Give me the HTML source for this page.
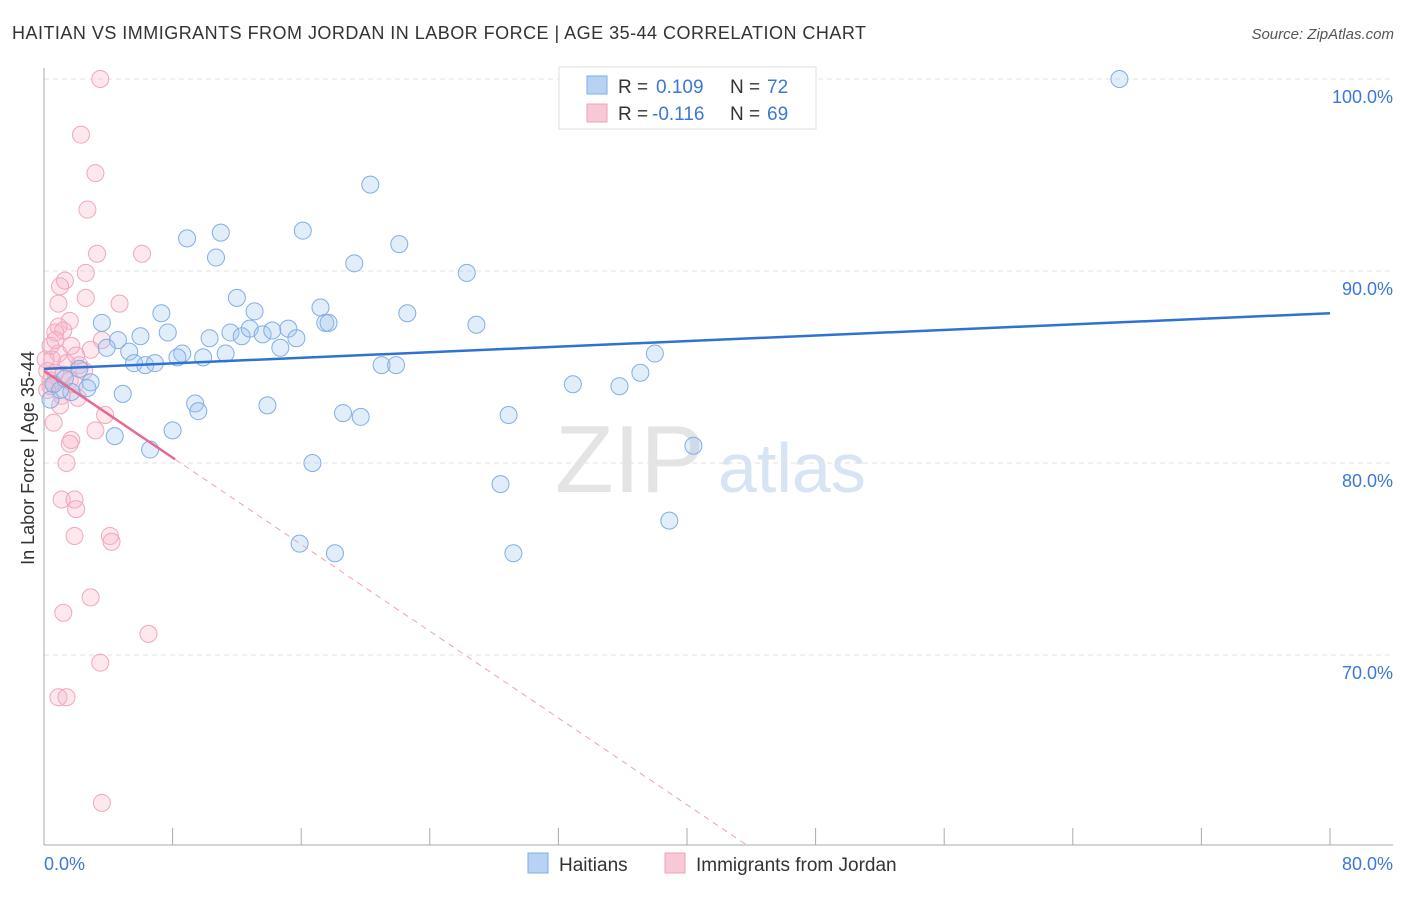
<!DOCTYPE html>
<html><head><meta charset="utf-8"><style>
body{margin:0;background:#fff;font-family:"Liberation Sans",sans-serif}
svg text{font-family:"Liberation Sans",sans-serif}
</style></head><body>
<svg id="chart" width="1406" height="892">
<text x="12" y="39" font-size="18" fill="#333" textLength="854" lengthAdjust="spacing">HAITIAN VS IMMIGRANTS FROM JORDAN IN LABOR FORCE | AGE 35-44 CORRELATION CHART</text>
<text x="1394" y="39" font-size="15" fill="#555" font-style="italic" text-anchor="end">Source: ZipAtlas.com</text>
<text x="34" y="458" font-size="18" fill="#333" text-anchor="middle" transform="rotate(-90 34 458)">In Labor Force | Age 35-44</text>
<text x="555" y="492" font-size="96" fill="#e4e4e4" font-family="Liberation Serif">ZIP</text>
<text x="718" y="492" font-size="70" fill="#d6e4f4">atlas</text>
<g id="grid"></g><g id="axes"></g><g id="pts"></g><g id="trends"></g>
<g>
<rect x="559" y="67" width="257" height="62" fill="#fff" stroke="#ddd"/>
<rect x="587" y="76" width="20" height="18" fill="#b8d2f4" stroke="#7aaee8"/>
<text x="618" y="93" font-size="19" fill="#333">R = </text>
<text x="656" y="93" font-size="19" fill="#3a78d8">0.109</text>
<text x="730" y="93" font-size="19" fill="#333">N = </text>
<text x="767" y="93" font-size="19" fill="#3a78d8">72</text>
<rect x="587" y="104" width="20" height="18" fill="#f9c8d6" stroke="#f2a0b8"/>
<text x="618" y="120" font-size="19" fill="#333">R = </text>
<text x="652" y="120" font-size="19" fill="#3a78d8">-0.116</text>
<text x="730" y="120" font-size="19" fill="#333">N = </text>
<text x="767" y="120" font-size="19" fill="#3a78d8">69</text>
</g>
<g>
<rect x="528" y="853" width="20" height="20" fill="#b8d2f4" stroke="#7aaee8"/>
<text x="559" y="871" font-size="19" fill="#333">Haitians</text>
<rect x="665" y="853" width="20" height="20" fill="#f9c8d6" stroke="#f2a0b8"/>
<text x="696" y="871" font-size="19" fill="#333">Immigrants from Jordan</text>
</g>
</svg>
<script>
const yTicks=[100,90,80,70];
const xTickLabels=["0.0%","80.0%"];
const blueX=[66.9,20.3,8.9,11.0,16.1,22.1,10.7,19.3,26.3,12.0,13.1,7.3,17.2,22.6,17.5,17.7,26.9,3.6,6.0,7.7,4.6,3.9,10.3,11.6,12.3,12.8,13.6,14.2,15.2,15.7,14.7,5.3,8.6,8.3,9.9,11.3,5.6,6.3,6.9,21.0,21.9,38.0,37.1,2.2,32.9,35.8,2.9,4.9,2.7,1.7,0.6,9.4,9.6,13.9,18.6,19.7,28.9,8.0,4.4,6.6,40.4,16.7,28.4,38.9,15.9,18.1,29.2,1.0,1.3,0.4];
const blueY=[100,94.5,91.7,92.0,92.1,91.4,90.7,90.4,89.9,88.6,87.9,87.8,88.1,87.8,87.3,87.3,87.2,87.3,86.6,86.8,86.4,86.0,86.5,86.8,86.6,87.0,86.7,86.9,87.0,86.5,86.0,85.8,85.7,85.5,85.5,85.7,85.2,85.1,85.2,85.1,85.1,85.7,84.7,84.9,84.1,84.0,84.2,83.6,83.9,83.7,84.1,83.1,82.7,83.0,82.6,82.4,82.5,81.7,81.4,80.7,80.9,80.0,78.9,77.0,75.8,75.3,75.3,83.8,84.4,83.3];
const pinkX=[3.5,2.3,3.2,2.7,3.3,6.1,1.3,2.6,1.0,2.6,4.7,0.9,1.6,0.9,1.2,0.7,3.6,2.9,1.7,0.4,0.9,2.0,0.5,1.4,2.2,0.2,0.7,1.2,1.6,0.4,1.9,1.1,2.1,1.0,3.8,0.6,3.2,1.7,1.6,1.4,1.1,1.9,2.0,1.9,4.1,4.2,2.9,1.2,6.5,3.5,0.9,1.4,3.6,0.4,0.1,0.2,2.5,0.7];
const pinkY=[100,97.1,95.1,93.2,90.9,90.9,89.5,89.9,89.2,88.6,88.3,88.3,87.4,87.1,86.9,86.8,86.4,85.9,86.1,86.1,85.7,85.6,85.4,85.2,85.1,84.8,84.7,84.6,84.3,84.0,84.1,83.5,83.4,83.0,82.5,82.1,81.7,81.2,81.0,80.0,78.1,78.1,77.6,76.2,76.2,75.9,73.0,72.2,71.1,69.6,67.8,67.8,62.3,84.3,85.4,83.8,84.8,86.4];
const blueTrend=[84.9,87.8];   // y at x=0 and x=80
const pinkTrend=[84.8,-0.565]; // intercept, slope
const NS="http://www.w3.org/2000/svg";
const X0=44,X1=1330,YT=79,YB=845;
const sx=v=>X0+(v/80)*(X1-X0);
const sy=v=>YT+(100-v)*19.2;
function mk(t,a,p){const e=document.createElementNS(NS,t);for(const k in a)e.setAttribute(k,a[k]);p.appendChild(e);return e;}
const grid=document.getElementById('grid'),axes=document.getElementById('axes');
yTicks.forEach(t=>{
 const l=mk('line',{x1:X0,x2:1393,y1:sy(t),y2:sy(t),stroke:'#e2e2e2','stroke-dasharray':'5,4'},grid);
 
 
 const tx=mk('text',{x:1393,y:sy(t)+24,'font-size':18,fill:'#3a78d8','text-anchor':'end'},axes);
 tx.textContent=t.toFixed(1)+'%';
 
 
});
const ax=mk('line',{x1:X0,x2:1393,y1:YB,y2:YB,stroke:'#aaa'},axes);


const ay=mk('line',{x1:X0,x2:X0,y1:68,y2:YB,stroke:'#aaa'},axes);


for(let i=0;i<=10;i++){const t=mk('line',{x1:sx(i*8),x2:sx(i*8),y1:828,y2:YB,stroke:'#aaa'},axes);
 
 }
[[0,'start',X0],[80,'end',1393]].forEach((d,i)=>{const t=mk('text',{x:d[2],y:870,'font-size':18,fill:'#3a78d8','text-anchor':d[1]},axes);t.textContent=xTickLabels[i];
 
 });
const pts=document.getElementById('pts');
pinkX.forEach((x,i)=>{const c=mk('circle',{cx:sx(x),cy:sy(pinkY[i]),r:8.5,fill:'rgba(248,180,200,0.3)',stroke:'#f2a6bc','stroke-width':1},pts);
 
 });
blueX.forEach((x,i)=>{const c=mk('circle',{cx:sx(x),cy:sy(blueY[i]),r:8.5,fill:'rgba(160,196,240,0.3)',stroke:'#80aee6','stroke-width':1},pts);
 
 });
const tr=document.getElementById('trends');
const bl=mk('line',{x1:sx(0),y1:sy(blueTrend[0]),x2:sx(80),y2:sy(blueTrend[1]),stroke:'#2f72d4','stroke-width':2.5},tr);


const pf=x=>pinkTrend[0]+pinkTrend[1]*x;
const xEnd=(60.1-pinkTrend[0])/pinkTrend[1];
const pd=mk('line',{x1:sx(8.15),y1:sy(pf(8.15)),x2:sx(xEnd),y2:sy(pf(xEnd)),stroke:'#f0a0b8','stroke-width':1,'stroke-dasharray':'6,5'},tr);


const ps=mk('line',{x1:sx(0),y1:sy(pf(0)),x2:sx(8.15),y2:sy(pf(8.15)),stroke:'#e86890','stroke-width':2.5},tr);


</script>
</body></html>
